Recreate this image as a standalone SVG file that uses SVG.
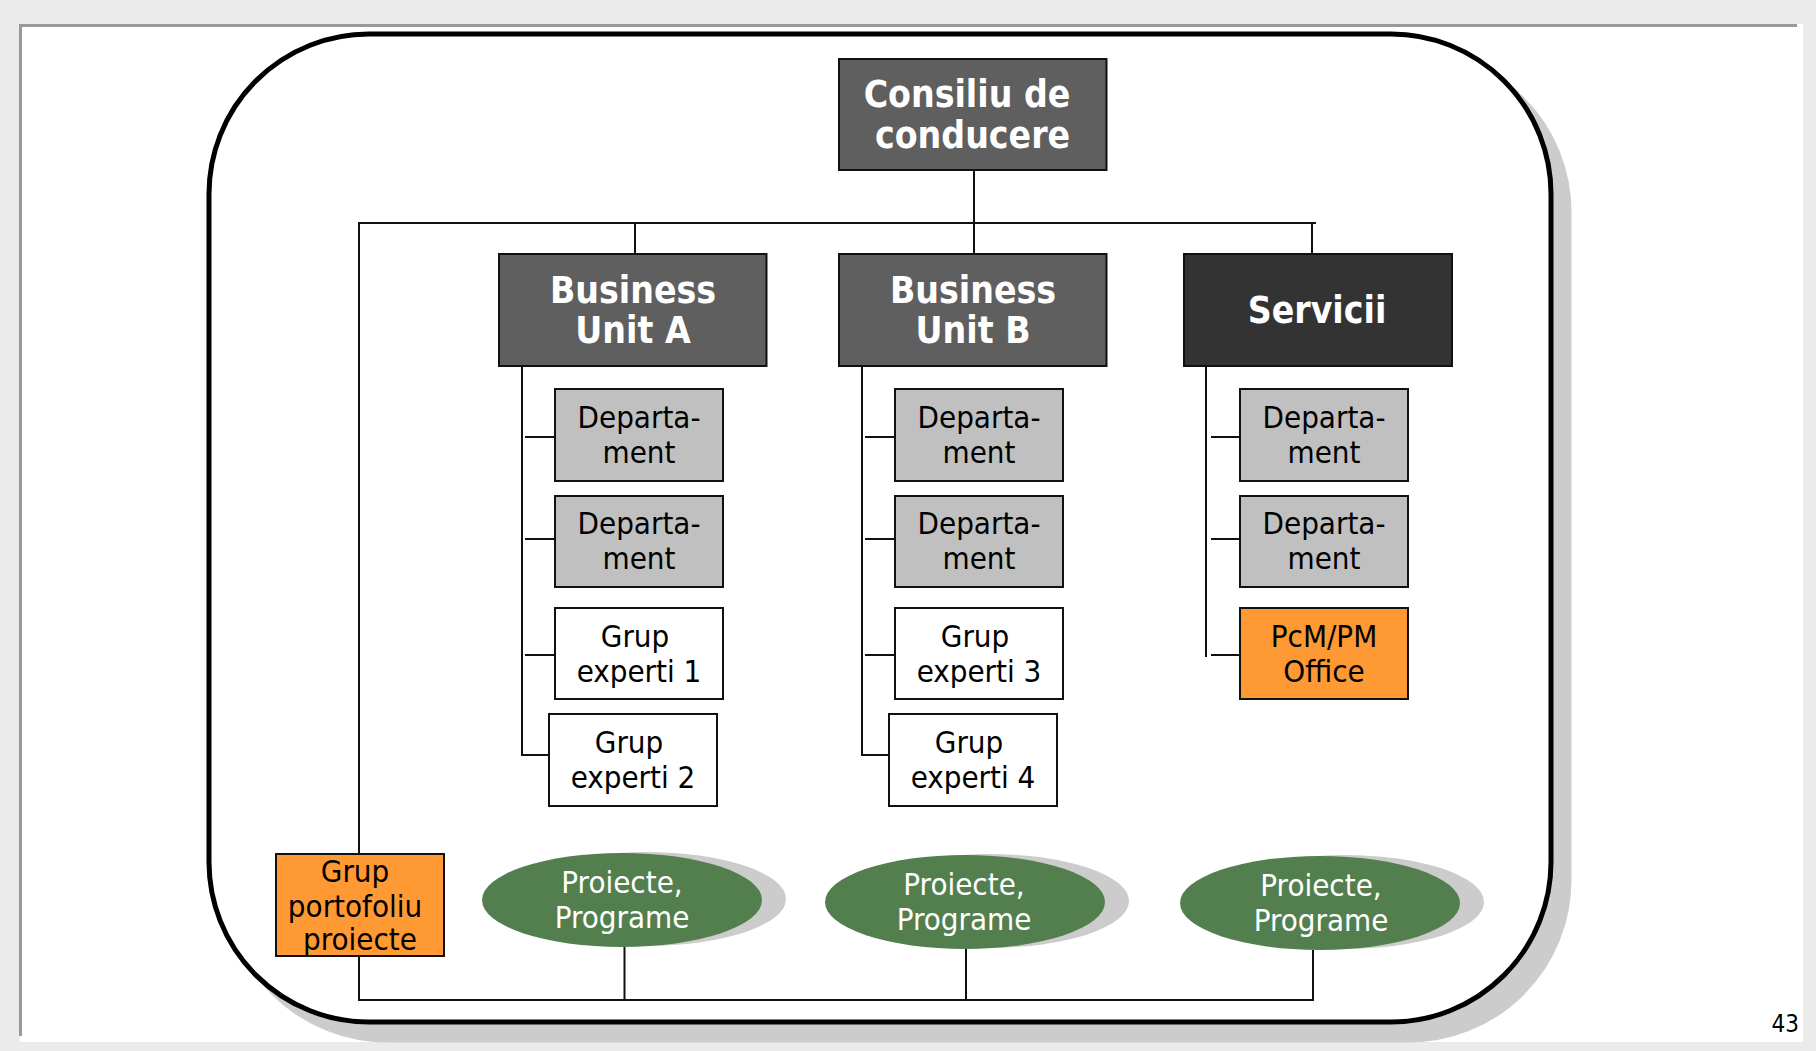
<svg xmlns="http://www.w3.org/2000/svg" width="1816" height="1051" viewBox="0 0 1816 1051">
<style>
.t{font-family:'DejaVu Sans Condensed','DejaVu Sans',sans-serif;font-stretch:condensed;text-anchor:middle}
.b{font-weight:bold;font-size:37px;fill:#ffffff}
.r{font-size:31px;fill:#000000}
.w{font-size:31px;fill:#ffffff}
.box{stroke:#111;stroke-width:2}
.dark{fill:#5f5f5f}
.svc{fill:#333333}
.dept{fill:#c0c0c0}
.grp{fill:#ffffff}
.org{fill:#ff9933}
.ell{fill:#537f4f}
.esh{fill:#cccccc}
.ln{fill:none;stroke:#111;stroke-width:2}
</style>
<rect x="0" y="0" width="1816" height="1051" fill="#ebebeb"/>
<rect x="20" y="24" width="1783" height="1018" fill="#ffffff"/>
<line x1="19" y1="25.5" x2="1797" y2="25.5" stroke="#999" stroke-width="3"/>
<line x1="20.5" y1="24" x2="20.5" y2="1036" stroke="#999" stroke-width="3"/>
<rect x="227" y="52" width="1342" height="988" rx="160" ry="160" fill="#cccccc" stroke="#cccccc" stroke-width="5"/>
<rect x="209" y="34" width="1342" height="988" rx="160" ry="160" fill="#ffffff" stroke="#000" stroke-width="5"/>
<text x="1799" y="1032" style="font-family:'DejaVu Sans Condensed','DejaVu Sans',sans-serif;font-stretch:condensed;font-size:24px;text-anchor:end" fill="#000">43</text>

<g id="connectors">
<path class="ln" d="M974 170 V254"/>
<path class="ln" d="M1316 223 H359 V1000 H1313 V950"/>
<path class="ln" d="M635 223 V254"/>
<path class="ln" d="M1312 223 V254"/>
<path class="ln" d="M522 366 V755 H549"/>
<path class="ln" d="M525 437 H555 M525 539 H555 M525 655 H555"/>
<path class="ln" d="M862 366 V755 H889"/>
<path class="ln" d="M865 437 H895 M865 539 H895 M865 655 H895"/>
<path class="ln" d="M1206 366 V657"/>
<path class="ln" d="M1211 437 H1240 M1211 539 H1240 M1211 655 H1240"/>
<path class="ln" d="M624.5 947 V1000 M966 949 V1000"/>
</g>

<g id="consiliu"><rect class="box dark" x="839" y="59" width="267.5" height="111"/>
<text class="t b" x="967" y="107">Consiliu de</text><text class="t b" x="972.6" y="147.5">conducere</text></g>

<g id="bu-a"><rect class="box dark" x="499" y="254" width="267.5" height="112"/>
<text class="t b" x="633" y="303">Business</text><text class="t b" x="633" y="343">Unit A</text></g>
<g id="bu-b"><rect class="box dark" x="839" y="254" width="267.5" height="112"/>
<text class="t b" x="973" y="303">Business</text><text class="t b" x="973" y="343">Unit B</text></g>
<g id="servicii"><rect class="box svc" x="1184" y="254" width="268" height="112"/>
<text class="t b" x="1317" y="322.5">Servicii</text></g>

<g id="a-dept1"><rect class="box dept" x="555" y="389" width="168" height="92"/>
<text class="t r" x="639" y="428">Departa-</text><text class="t r" x="639" y="463">ment</text></g>
<g id="a-dept2"><rect class="box dept" x="555" y="496" width="168" height="91"/>
<text class="t r" x="639" y="534">Departa-</text><text class="t r" x="639" y="569">ment</text></g>
<g id="a-ge1"><rect class="box grp" x="555" y="608" width="168" height="91"/>
<text class="t r" x="635" y="646.5">Grup</text><text class="t r" x="639" y="681.5">experti 1</text></g>
<g id="a-ge2"><rect class="box grp" x="549" y="714" width="168" height="92"/>
<text class="t r" x="629" y="753">Grup</text><text class="t r" x="633" y="788">experti 2</text></g>

<g id="b-dept1"><rect class="box dept" x="895" y="389" width="168" height="92"/>
<text class="t r" x="979" y="428">Departa-</text><text class="t r" x="979" y="463">ment</text></g>
<g id="b-dept2"><rect class="box dept" x="895" y="496" width="168" height="91"/>
<text class="t r" x="979" y="534">Departa-</text><text class="t r" x="979" y="569">ment</text></g>
<g id="b-ge3"><rect class="box grp" x="895" y="608" width="168" height="91"/>
<text class="t r" x="975" y="646.5">Grup</text><text class="t r" x="979" y="681.5">experti 3</text></g>
<g id="b-ge4"><rect class="box grp" x="889" y="714" width="168" height="92"/>
<text class="t r" x="969" y="753">Grup</text><text class="t r" x="973" y="788">experti 4</text></g>

<g id="s-dept1"><rect class="box dept" x="1240" y="389" width="168" height="92"/>
<text class="t r" x="1324" y="428">Departa-</text><text class="t r" x="1324" y="463">ment</text></g>
<g id="s-dept2"><rect class="box dept" x="1240" y="496" width="168" height="91"/>
<text class="t r" x="1324" y="534">Departa-</text><text class="t r" x="1324" y="569">ment</text></g>
<g id="s-pcm"><rect class="box org" x="1240" y="608" width="168" height="91"/>
<text class="t r" x="1324" y="646.5">PcM/PM</text><text class="t r" x="1324" y="681.5">Office</text></g>

<g id="grup-portofoliu"><rect class="box org" x="276" y="854" width="168" height="102"/>
<text class="t r" x="355" y="881.5">Grup</text><text class="t r" x="355" y="916.5">portofoliu</text><text class="t r" x="360" y="950">proiecte</text></g>

<g id="proiecte-1"><ellipse class="esh" cx="646" cy="899" rx="140" ry="47"/><ellipse class="ell" cx="622" cy="900" rx="140" ry="47"/>
<text class="t w" x="622" y="893">Proiecte,</text><text class="t w" x="622" y="928">Programe</text></g>
<g id="proiecte-2"><ellipse class="esh" cx="989" cy="901" rx="140" ry="47"/><ellipse class="ell" cx="965" cy="902" rx="140" ry="47"/>
<text class="t w" x="964" y="895">Proiecte,</text><text class="t w" x="964" y="930">Programe</text></g>
<g id="proiecte-3"><ellipse class="esh" cx="1344" cy="902" rx="140" ry="47"/><ellipse class="ell" cx="1320" cy="903" rx="140" ry="47"/>
<text class="t w" x="1321" y="896">Proiecte,</text><text class="t w" x="1321" y="931">Programe</text></g>
</svg>
